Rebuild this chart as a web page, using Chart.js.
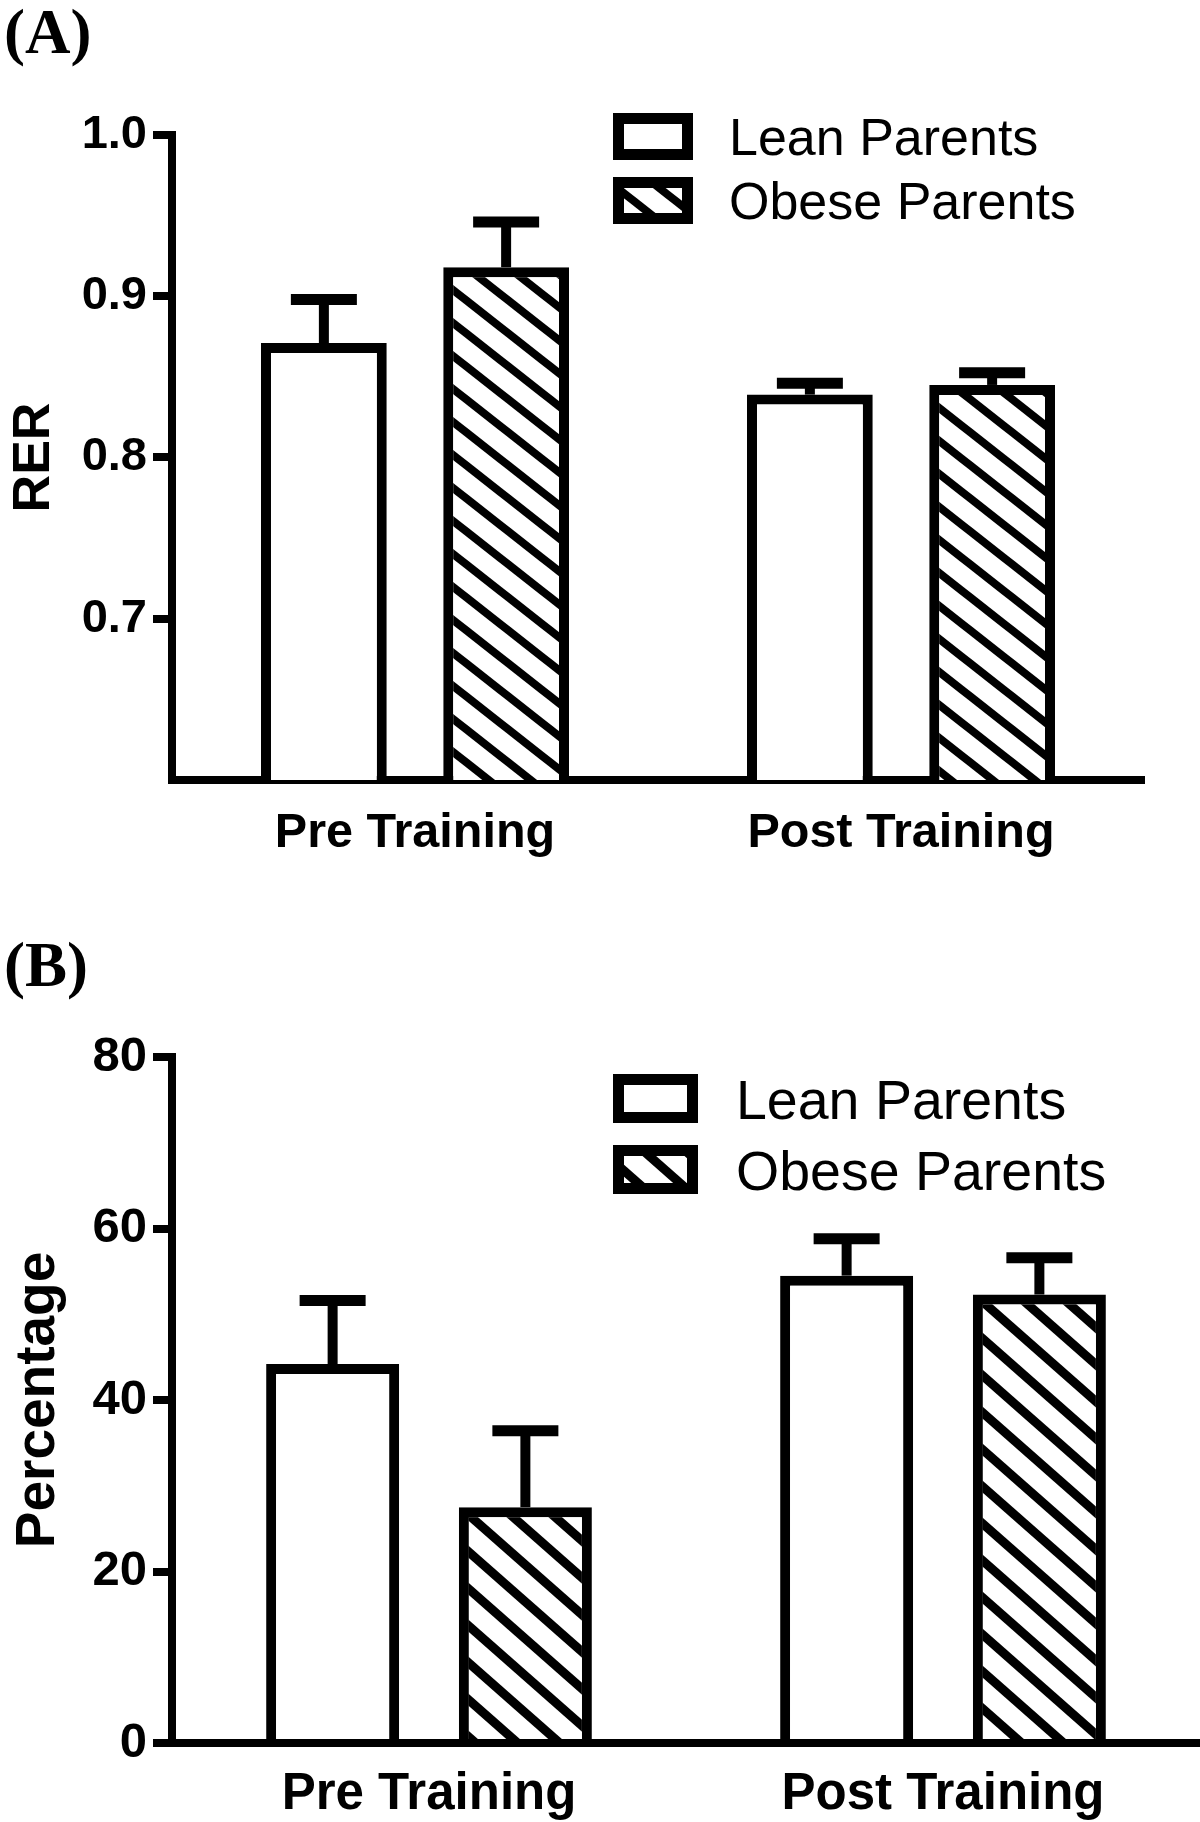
<!DOCTYPE html>
<html>
<head>
<meta charset="utf-8">
<script src="https://cdn.jsdelivr.net/npm/chart.js@4.4.1/dist/chart.umd.min.js"></script>
<style>
  body { margin: 0; background: #fff; width: 1200px; height: 1822px; position: relative; overflow: hidden; }
  canvas { position: absolute; left: 0; }
  .tag { position: absolute; left: 4px; font: bold 63px 'Liberation Serif', 'Times New Roman', serif; line-height: 1; }
</style>
</head>
<body>
<canvas id="rer" width="1200" height="880" style="top:0"></canvas>
<canvas id="pct" width="1200" height="942" style="top:880px"></canvas>
<div class="tag" style="top:1px">(A)</div>
<div class="tag" style="top:934px">(B)</div>
<script>
const groups = ['Pre Training', 'Post Training'];
const seriesNames = ['Lean Parents', 'Obese Parents'];

// panel A - RER
const rerLean = [0.871, 0.839];
const rerLeanErr = [0.027, 0.007];
const rerObese = [0.918, 0.845];
const rerObeseErr = [0.028, 0.0075];
const rerTicks = [0.7, 0.8, 0.9, 1.0];

// panel B - percentage
const pctLean = [44.2, 54.5];
const pctLeanErr = [7.4, 4.3];
const pctObese = [27.5, 52.3];
const pctObeseErr = [8.9, 4.3];
const pctTicks = [0, 20, 40, 60, 80];

Chart.defaults.font.family = "'Liberation Sans', Arial, sans-serif";
Chart.defaults.color = '#000';

function hatch(w, h, lw) {
    const c = document.createElement('canvas');
    c.width = w;
    c.height = h;
    const g = c.getContext('2d');
    g.fillStyle = '#fff';
    g.fillRect(0, 0, w, h);
    g.strokeStyle = '#000';
    g.lineWidth = lw;
    for (let n = -1; n <= 1; n++) {
        g.beginPath();
        g.moveTo(-w, n * h - h);
        g.lineTo(2 * w, n * h + 2 * h);
        g.stroke();
    }
    return g.createPattern(c, 'repeat');
}

// error bars (mean + error), drawn from the bar top
const errorBars = {
    id: 'errorBars',
    afterDatasetsDraw(chart, args, o) {
        const ctx = chart.ctx;
        const y = chart.scales.y;
        chart.data.datasets.forEach((ds, i) => {
            chart.getDatasetMeta(i).data.forEach((bar, j) => {
                const top = y.getPixelForValue(ds.data[j] + ds.errors[j]);
                ctx.save();
                ctx.strokeStyle = '#000';
                ctx.lineWidth = o.width;
                ctx.beginPath();
                ctx.moveTo(bar.x, bar.y);
                ctx.lineTo(bar.x, top);
                ctx.stroke();
                ctx.lineWidth = o.capWidth;
                ctx.beginPath();
                ctx.moveTo(bar.x - o.cap / 2, top);
                ctx.lineTo(bar.x + o.cap / 2, top);
                ctx.stroke();
                ctx.restore();
            });
        });
    }
};

// legend with framed boxes, inside the plot
const boxLegend = {
    id: 'boxLegend',
    afterDraw(chart, args, o) {
        const ctx = chart.ctx;
        chart.data.datasets.forEach((ds, i) => {
            const top = o.y + i * o.gap;
            ctx.save();
            ctx.fillStyle = '#000';
            ctx.fillRect(o.x, top, o.w, o.h);
            ctx.fillStyle = ds.backgroundColor;
            ctx.fillRect(o.x + o.bw, top + o.bw, o.w - 2 * o.bw, o.h - 2 * o.bw);
            ctx.font = o.font;
            ctx.fillStyle = '#000';
            ctx.textBaseline = 'alphabetic';
            ctx.fillText(ds.label, o.textX, top + o.baseline);
            ctx.restore();
        });
    }
};

function barChart(canvas, lean, leanErr, obese, obeseErr, opt) {
    const bar = {
        borderColor: '#000',
        borderWidth: 10,
        borderSkipped: 'start',
        categoryPercentage: 0.75,
        barPercentage: 0.69
    };
    return new Chart(canvas, {
        type: 'bar',
        data: {
            labels: groups,
            datasets: [
                Object.assign({ label: seriesNames[0], data: lean, errors: leanErr, backgroundColor: '#fff' }, bar),
                Object.assign({ label: seriesNames[1], data: obese, errors: obeseErr, backgroundColor: opt.pattern }, bar)
            ]
        },
        plugins: [errorBars, boxLegend],
        options: {
            responsive: false,
            animation: false,
            layout: {
                padding: { top: opt.top, right: opt.right, left: 0, bottom: 0 }
            },
            plugins: {
                legend: { display: false },
                tooltip: { enabled: false },
                errorBars: { width: 10, capWidth: 11, cap: 66 },
                boxLegend: opt.legend
            },
            scales: {
                x: {
                    grid: { display: false, drawTicks: false },
                    border: { color: '#000', width: 8 },
                    ticks: {
                        color: '#000',
                        padding: opt.xPad,
                        font: { size: opt.xFont, weight: 'bold' }
                    },
                    afterFit: (s) => { s.height = opt.xHeight; }
                },
                y: {
                    min: opt.min,
                    max: opt.max,
                    afterBuildTicks: (s) => { s.ticks = opt.ticks.map(v => ({ value: v })); },
                    grid: {
                        drawOnChartArea: false,
                        tickLength: 19,
                        lineWidth: 8,
                        color: '#000'
                    },
                    border: { color: '#000', width: 8 },
                    ticks: {
                        color: '#000',
                        padding: 6,
                        font: { size: opt.yFont, weight: 'bold' },
                        callback: opt.fmt
                    },
                    title: {
                        display: true,
                        text: opt.title,
                        color: '#000',
                        padding: { top: opt.titlePad, bottom: 0 },
                        font: { size: opt.titleFont, weight: 'bold' }
                    },
                    afterFit: (s) => { s.width = 172; }
                }
            }
        }
    });
}

barChart(document.getElementById('rer'), rerLean, rerLeanErr, rerObese, rerObeseErr, {
    pattern: hatch(42, 33, 8),
    top: 135, right: 56, xHeight: 100, xPad: 25, xFont: 48.5,
    min: 0.6, max: 1.0, ticks: rerTicks, yFont: 47,
    fmt: v => v.toFixed(1),
    title: 'RER', titleFont: 52, titlePad: 3,
    legend: { x: 613, y: 113, w: 80, h: 47, bw: 11, gap: 64, textX: 729, baseline: 42, font: "52px 'Liberation Sans', Arial, sans-serif" }
});

barChart(document.getElementById('pct'), pctLean, pctLeanErr, pctObese, pctObeseErr, {
    pattern: hatch(42, 37, 9),
    top: 177, right: 0, xHeight: 79, xPad: 21, xFont: 51,
    min: 0, max: 80, ticks: pctTicks, yFont: 49,
    fmt: v => v,
    title: 'Percentage', titleFont: 55, titlePad: 6,
    legend: { x: 613, y: 194, w: 85, h: 49, bw: 11, gap: 71, textX: 736, baseline: 45, font: "55.5px 'Liberation Sans', Arial, sans-serif" }
});
</script>
</body>
</html>
